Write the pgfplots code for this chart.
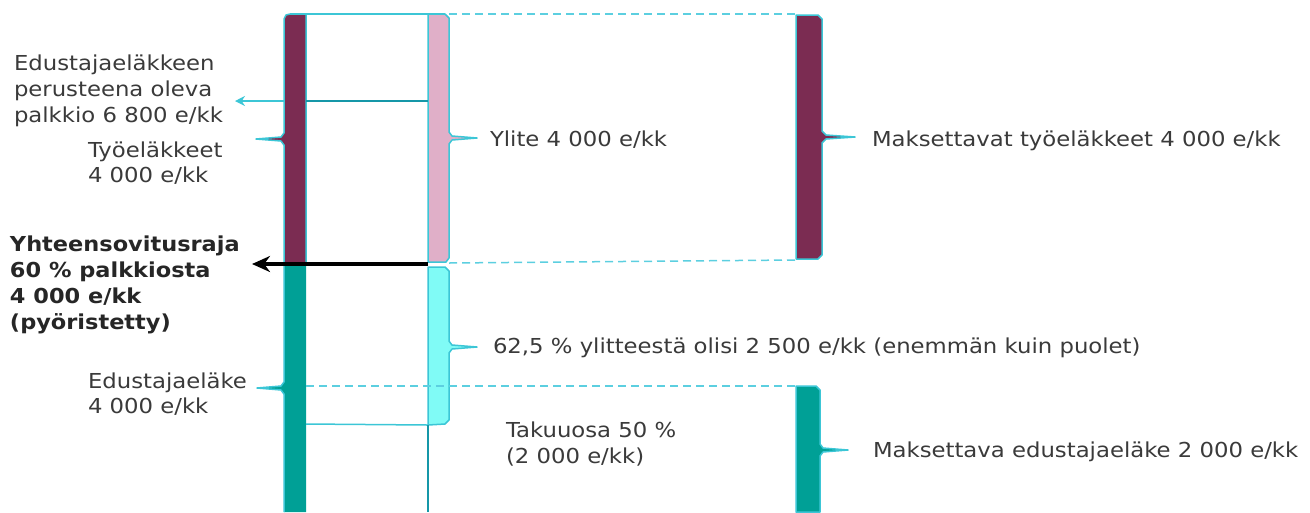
\documentclass[border=0pt]{standalone}
\usepackage{pgfplots}
\pgfplotsset{compat=1.18}
\usepackage{fontspec}
\setmainfont{DejaVu Sans}[UprightFeatures={FakeStretch=1.105}, BoldFeatures={FakeStretch=1.09}]
\usetikzlibrary{arrows.meta}
\definecolor{cpurple}{HTML}{7B2C52}
\definecolor{cpink}{HTML}{E0AFC8}
\definecolor{cteal}{HTML}{00A096}
\definecolor{caqua}{HTML}{80FBF6}
\definecolor{cline}{HTML}{3CC6D6}
\definecolor{cdark}{HTML}{1597A8}
\definecolor{cdash}{HTML}{5CCFE0}
\definecolor{ctext}{HTML}{3A3A3A}
\tikzset{lbl/.style={anchor=base west, inner sep=0pt, outer sep=0pt, text=ctext, font=\fontsize{10.3}{13}\selectfont},
         blbl/.style={lbl, text=black!85, font=\fontsize{10.3}{13}\selectfont\bfseries}}
\begin{document}
\begin{tikzpicture}
\begin{axis}[
  width=655pt, height=256pt, scale only axis,
  xmin=0, xmax=1310, ymin=0, ymax=512, y dir=reverse,
  hide axis, clip=false,
  line join=round,
]
\addplot[draw=none] coordinates {(0,0)(1310,512)};
% left bar: purple (työeläkkeet)
\addplot[fill=cpurple, draw=cline, line width=0.75pt] coordinates {
 (306,14)(306,263)(284,263)(284,145)(281,141)(256,139)(281,137)(284,133)(284,19)(286,15)(290,14)} -- cycle;
% left bar: teal (edustajaeläke)
\addplot[fill=cteal, draw=none] coordinates {
 (284,263)(306,263)(306,512)(284,512)(284,394)(281,390)(257,388)(281,386)(284,382)} -- cycle;
\addplot[draw=cline, line width=0.75pt] coordinates {
 (284,263)(284,382)(281,386)(257,388)(281,390)(284,394)(284,512)};
% top connecting line
\addplot[draw=cline, line width=0.75pt] coordinates {(290,14)(445,14)};
% pink bar (ylite)
\addplot[fill=cpink, draw=cline, line width=0.75pt] coordinates {
 (428,14)(445,14)(449,18)(449,132)(452,136)(477,138)(452,140)(449,144)(449,258)(446,262)(428,262)} -- cycle;
% aqua bar (62,5 %)
\addplot[fill=caqua, draw=cline, line width=0.75pt] coordinates {
 (428,267)(445,267)(449,271)(449,341)(452,345)(477,347)(452,349)(449,353)(449,420)(445,424)(428,425)} -- cycle;
% bottom line of aqua section and vertical line
\addplot[draw=cline, line width=0.75pt] coordinates {(306,424)(428,425)};
\addplot[draw=cdark, line width=0.75pt] coordinates {(428,425)(428,512)};
% 6 800 line and arrow
\addplot[draw=cdark, line width=0.75pt] coordinates {(306,101)(428,101)};
\addplot[draw=cline, line width=0.75pt, -{Stealth[length=5pt,width=5pt]}] coordinates {(284,101)(235,101)};
% black arrow
\addplot[draw=black, line width=2pt, -{Stealth[length=9pt,width=8pt]}] coordinates {(428,264)(252,264)};
% dashed lines
\addplot[draw=cdash, line width=0.75pt, dash pattern=on 4pt off 2.5pt] coordinates {(449,14)(795,14)};
\addplot[draw=cdash, line width=0.75pt, dash pattern=on 4pt off 2.5pt] coordinates {(449,263)(795,260)};
\addplot[draw=cdash, line width=0.75pt, dash pattern=on 4pt off 2.5pt] coordinates {(306,386)(796,386)};
% right purple bar
\addplot[fill=cpurple, draw=cline, line width=0.75pt] coordinates {
 (796,15)(818,15)(822,19)(822,131)(826,135)(855,137)(826,139)(822,143)(822,255)(818,259)(796,259)} -- cycle;
% right teal bar
\addplot[fill=cteal, draw=cline, line width=0.75pt] coordinates {
 (796,386)(816,386)(820,390)(820,444)(823,448)(848,450)(823,452)(820,456)(820,512)(796,512)} -- cycle;
% texts
\node[lbl] at (axis cs:14,70) {Edustajaeläkkeen};
\node[lbl] at (axis cs:14,96) {perusteena oleva};
\node[lbl] at (axis cs:14,122) {palkkio 6 800 e/kk};
\node[lbl] at (axis cs:88,157) {Työeläkkeet};
\node[lbl] at (axis cs:88,182) {4 000 e/kk};
\node[blbl] at (axis cs:10,251) {Yhteensovitusraja};
\node[blbl] at (axis cs:10,277) {60 \% palkkiosta};
\node[blbl] at (axis cs:10,303) {4 000 e/kk};
\node[blbl] at (axis cs:10,329) {(pyöristetty)};
\node[lbl] at (axis cs:88,388) {Edustajaeläke};
\node[lbl] at (axis cs:88,413) {4 000 e/kk};
\node[lbl] at (axis cs:490,146) {Ylite 4 000 e/kk};
\node[lbl] at (axis cs:872,146) {Maksettavat työeläkkeet 4 000 e/kk};
\node[lbl] at (axis cs:493,353) {62,5 \% ylitteestä olisi 2 500 e/kk (enemmän kuin puolet)};
\node[lbl] at (axis cs:506,437) {Takuuosa 50 \%};
\node[lbl] at (axis cs:506,463) {(2 000 e/kk)};
\node[lbl] at (axis cs:873,457) {Maksettava edustajaeläke 2 000 e/kk};
\end{axis}
\end{tikzpicture}
\end{document}
